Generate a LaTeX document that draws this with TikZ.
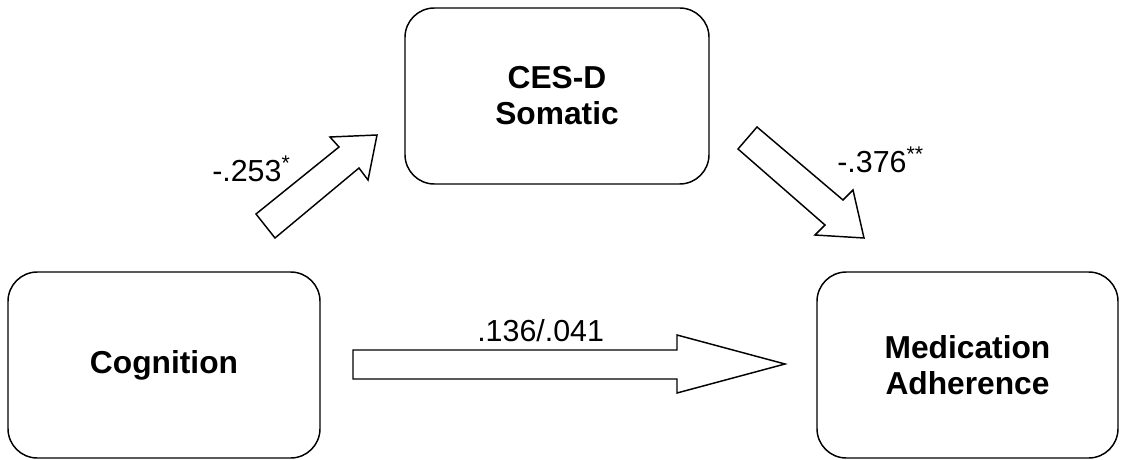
\documentclass[tikz,border=0pt]{standalone}
\usepackage{fontspec}
\setmainfont{Liberation Sans}
\begin{document}
\begin{tikzpicture}[x=0.75pt,y=-0.75pt,
  box/.style={draw, line width=1.1pt, rounded corners=22pt, align=center,
    font=\fontsize{23.8}{27}\selectfont\bfseries, inner sep=0pt},
  blockarrow/.style={draw, line width=1.1pt, line join=miter, fill=white},
  coef/.style={font=\fontsize{22.8}{27}\selectfont, inner sep=0pt}]
\useasboundingbox (0,0) rectangle (1122,460);
\node[box, minimum width=234pt, minimum height=139.5pt] (cog) at (164,365) {Cognition};
\node[box, minimum width=228pt, minimum height=132pt] (ces) at (557,96) {CES-D\\Somatic};
\node[box, minimum width=225.75pt, minimum height=139.5pt] (med) at (967.5,365) {Medication\\Adherence};
% block arrows
\draw[blockarrow] (256,214) -- (339,147) -- (330,137) -- (377,135) -- (368,180) -- (359,168) -- (275,238) -- cycle;
\draw[blockarrow] (757,127) -- (843,200) -- (853,190) -- (864,238) -- (815,235) -- (825,225) -- (738,149) -- cycle;
\draw[blockarrow] (353,350) -- (677,350) -- (677,335) -- (785,364) -- (677,393) -- (677,379) -- (353,379) -- cycle;
% coefficients
\node[coef, anchor=base west] (a) at (212,181) {-.253\textsuperscript{*}};
\node[coef, anchor=base west] (b) at (837,172) {-.376\textsuperscript{**}};
\node[coef, anchor=base west] (c) at (477,341) {.136/.041};
\end{tikzpicture}
\end{document}
